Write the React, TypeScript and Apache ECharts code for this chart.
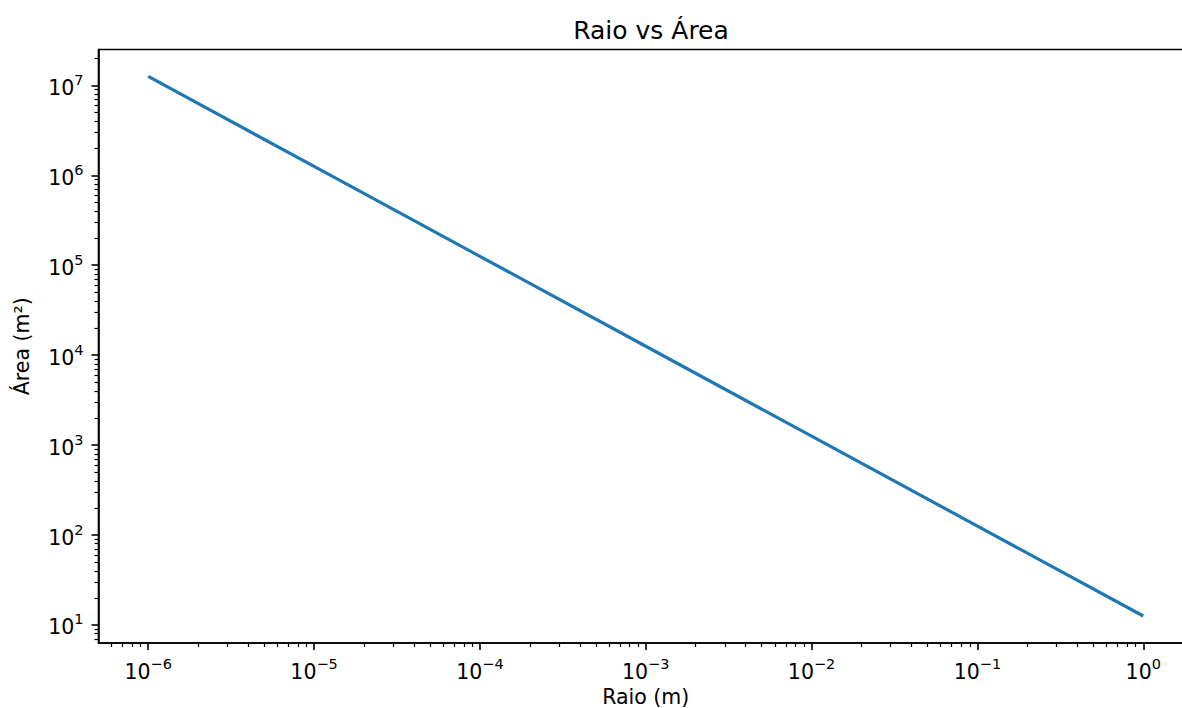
import React, { useEffect, useRef } from "react";
import * as echarts from "echarts";

// Data (log-log line)
const radius = [1e-6, 1e-5, 1e-4, 1e-3, 1e-2, 1e-1, 1];
const area = [1.257e7, 1.257e6, 1.257e5, 1.257e4, 1257, 125.7, 12.57];

// Tick labels (major decades)
const xMajorTicks = [1e-6, 1e-5, 1e-4, 1e-3, 1e-2, 1e-1, 1];
const yMajorTicks = [1e1, 1e2, 1e3, 1e4, 1e5, 1e6, 1e7];

const xMin = 5.012e-7;
const xMax = 1.995;
const yMin = 6.298;
const yMax = 2.507e7;

const title = "Raio vs Área";
const xName = "Raio (m)";
const yName = "Área (m²)";

function minorTicks(lo: number, hi: number): number[] {
  const out: number[] = [];
  const e0 = Math.floor(Math.log10(lo)) - 1;
  const e1 = Math.ceil(Math.log10(hi)) + 1;
  for (let e = e0; e <= e1; e++) {
    for (let m = 2; m <= 9; m++) {
      const v = m * Math.pow(10, e);
      if (v > lo && v < hi) out.push(v);
    }
  }
  return out;
}

const FONT = "DejaVu Sans";

function fmt(v: number): string {
  const e = Math.round(Math.log10(v));
  const s = e < 0 ? "\u2212" + -e : String(e);
  return "{b|10}{s|" + s + "}";
}

const rich = {
  b: { fontSize: 20.5, fontFamily: FONT, color: "#000", lineHeight: 26, verticalAlign: "bottom" as const },
  s: { fontSize: 14.5, fontFamily: FONT, color: "#000", lineHeight: 14, verticalAlign: "top" as const },
};

export default function App() {
  const ref = useRef<HTMLDivElement>(null);
  useEffect(() => {
    if (!ref.current) return;
    const chart = echarts.init(ref.current, undefined, { renderer: "svg" });
    const axisLine = { show: true, onZero: false, lineStyle: { color: "#000", width: 1.6 } };
    chart.setOption({
      animation: false,
      backgroundColor: "#fff",
      title: {
        text: title,
        left: 646,
        textAlign: "center",
        top: 13,
        textStyle: { fontFamily: FONT, fontSize: 25, fontWeight: "normal", color: "#000" },
      },
      grid: {
        left: 98.5,
        top: 49.5,
        right: -11,
        bottom: 65,
        outerBoundsMode: "none",
        containLabel: false,
        show: true,
        borderColor: "#000",
        borderWidth: 1.6,
        backgroundColor: "#fff",
      },
      xAxis: [
        {
          type: "log",
          logBase: 10,
          min: xMin,
          max: xMax,
          position: "bottom",
          name: xName,
          nameLocation: "middle",
          nameGap: 40,
          nameTextStyle: { fontFamily: FONT, fontSize: 20.5, color: "#000" },
          axisLine,
          axisTick: { show: true, length: 7, lineStyle: { color: "#000", width: 1.6 }, customValues: xMajorTicks },
          axisLabel: { show: true, margin: 13, formatter: fmt, rich, customValues: xMajorTicks, hideOverlap: false },
          splitLine: { show: false },
          minorTick: { show: false },
        },
        {
          type: "log",
          logBase: 10,
          min: xMin,
          max: xMax,
          position: "bottom",
          axisLine: { show: false, onZero: false },
          axisTick: { show: true, length: 4, lineStyle: { color: "#000", width: 1.2 }, customValues: minorTicks(xMin, xMax) },
          axisLabel: { show: false },
          splitLine: { show: false },
        },
      ],
      yAxis: [
        {
          type: "log",
          logBase: 10,
          min: yMin,
          max: yMax,
          position: "left",
          name: yName,
          nameLocation: "middle",
          nameGap: 66,
          nameRotate: 90,
          nameTextStyle: { fontFamily: FONT, fontSize: 20.5, color: "#000" },
          axisLine,
          axisTick: { show: true, length: 7, lineStyle: { color: "#000", width: 1.6 }, customValues: yMajorTicks },
          axisLabel: { show: true, margin: 15, formatter: fmt, rich, customValues: yMajorTicks },
          splitLine: { show: false },
          minorTick: { show: false },
        },
        {
          type: "log",
          logBase: 10,
          min: yMin,
          max: yMax,
          position: "left",
          axisLine: { show: false, onZero: false },
          axisTick: { show: true, length: 4, lineStyle: { color: "#000", width: 1.2 }, customValues: minorTicks(yMin, yMax) },
          axisLabel: { show: false },
          splitLine: { show: false },
        },
      ],
      series: [
        {
          type: "line",
          xAxisIndex: 0,
          yAxisIndex: 0,
          data: radius.map((r, i) => [r, area[i]]),
          showSymbol: false,
          symbol: "none",
          lineStyle: { color: "#1f77b4", width: 3.2 },
        },
      ],
    });
    return () => chart.dispose();
  }, []);
  return (
    <div
      ref={ref}
      style={{ position: "fixed", left: 0, top: 0, width: 1182, height: 708, background: "#fff" }}
    />
  );
}
